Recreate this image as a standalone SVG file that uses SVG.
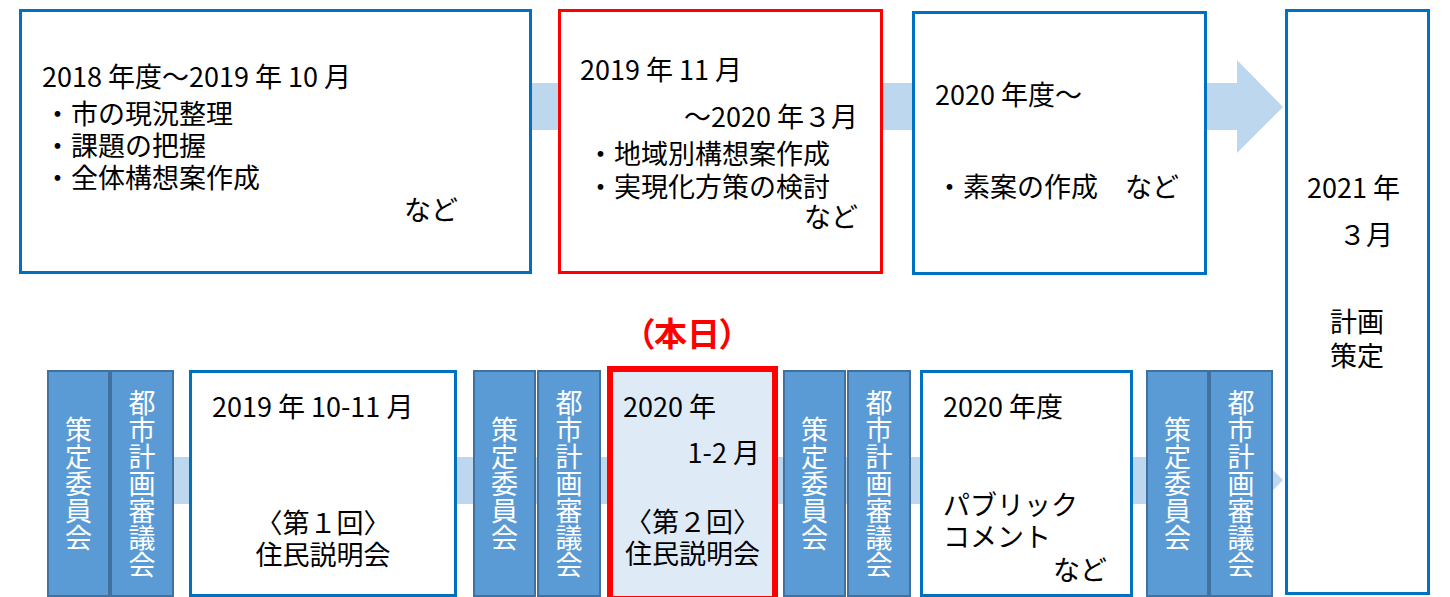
<svg xmlns="http://www.w3.org/2000/svg" width="1450" height="597" viewBox="0 0 1450 597">
<style>
.t{font-family:"Noto Sans CJK JP","Noto Sans CJK SC",sans-serif;font-size:27px;fill:#000}
.e{text-anchor:end}
.m{text-anchor:middle}
.v{font-family:"Noto Sans CJK JP","Noto Sans CJK SC",sans-serif;font-size:27px;fill:#fff;writing-mode:vertical-rl;text-anchor:middle}
.box{fill:#fff;stroke:#0070C0;stroke-width:3}
.rbox{fill:#fff;stroke:#FF0000;stroke-width:3}
.bar{fill:#5B9BD5;stroke:#41719C;stroke-width:2}
.band{fill:#BDD7EE}
</style>
<rect width="1450" height="597" fill="#fff"/>
<g id="connectors">
<polygon class="band" points="20,83 1237,83 1237,60 1283,107 1237,153 1237,130 20,130"/>
<polygon class="band" points="48,457 1237,457 1237,434 1283,480 1237,527 1237,504 48,504"/>
</g>
<g id="n-2018">
<rect class="box" x="20.5" y="10.5" width="510" height="262"/>
<text class="t" x="42" y="87">2018 年度～2019 年 10 月</text>
<text class="t" x="44" y="124">・市の現況整理</text>
<text class="t" x="44" y="156">・課題の把握</text>
<text class="t" x="44" y="188">・全体構想案作成</text>
<text class="t e" x="458" y="220">など</text>
</g>
<g id="n-2019">
<rect class="rbox" x="559.5" y="10.5" width="322" height="262"/>
<text class="t" x="580" y="80">2019 年 11 月</text>
<text class="t e" x="858" y="127">～2020 年３月</text>
<text class="t" x="587" y="164">・地域別構想案作成</text>
<text class="t" x="587" y="197">・実現化方策の検討</text>
<text class="t e" x="858" y="227">など</text>
</g>
<g id="n-2020">
<rect class="box" x="913.5" y="12.5" width="292" height="261"/>
<text class="t" x="935" y="105">2020 年度～</text>
<text class="t" x="936" y="197">・素案の作成　など</text>
</g>
<g id="n-2021">
<rect class="box" x="1286.5" y="10.5" width="142" height="583"/>
<text class="t" x="1307" y="198">2021 年</text>
<text class="t" x="1339" y="245">３月</text>
<text class="t" x="1330" y="332">計画</text>
<text class="t" x="1330" y="366">策定</text>
</g>
<g id="b1a"><rect class="bar" x="48" y="371" width="61" height="225"/><text class="v" x="78.5" y="483.5">策定委員会</text></g>
<g id="b1b"><rect class="bar" x="111" y="371" width="62" height="225"/><text class="v" x="142" y="483.5">都市計画審議会</text></g>
<g id="n-setsumei1">
<rect class="box" x="190.5" y="371.5" width="265" height="224"/>
<text class="t" x="212" y="417">2019 年 10-11 月</text>
<text class="t m" x="323" y="533">〈第１回〉</text>
<text class="t m" x="323" y="565">住民説明会</text>
</g>
<g id="b2a"><rect class="bar" x="474" y="371" width="61" height="225"/><text class="v" x="504.5" y="483.5">策定委員会</text></g>
<g id="b2b"><rect class="bar" x="538" y="371" width="62" height="225"/><text class="v" x="569" y="483.5">都市計画審議会</text></g>
<g id="n-honjitsu">
<text x="687" y="346" text-anchor="middle" style="font-family:'Noto Sans CJK JP',sans-serif;font-size:33px;font-weight:bold;fill:#FF0000;font-feature-settings:'palt'">（本日）</text>
</g>
<g id="n-setsumei2">
<rect x="610" y="369" width="165" height="230" fill="#DEEBF7" stroke="#FF0000" stroke-width="6"/>
<text class="t" x="623" y="417">2020 年</text>
<text class="t e" x="760" y="463">1-2 月</text>
<text class="t m" x="692.5" y="532">〈第２回〉</text>
<text class="t m" x="692.5" y="564">住民説明会</text>
</g>
<g id="b3a"><rect class="bar" x="784" y="371" width="61" height="225"/><text class="v" x="814.5" y="483.5">策定委員会</text></g>
<g id="b3b"><rect class="bar" x="848" y="371" width="62" height="225"/><text class="v" x="879" y="483.5">都市計画審議会</text></g>
<g id="n-public">
<rect class="box" x="921.5" y="371.5" width="210" height="224"/>
<text class="t" x="943" y="417">2020 年度</text>
<text class="t" x="943" y="515">パブリック</text>
<text class="t" x="943" y="547">コメント</text>
<text class="t e" x="1107" y="580">など</text>
</g>
<g id="b4a"><rect class="bar" x="1147" y="371" width="61" height="225"/><text class="v" x="1177.5" y="483.5">策定委員会</text></g>
<g id="b4b"><rect class="bar" x="1210" y="371" width="62" height="225"/><text class="v" x="1241" y="483.5">都市計画審議会</text></g>
</svg>
